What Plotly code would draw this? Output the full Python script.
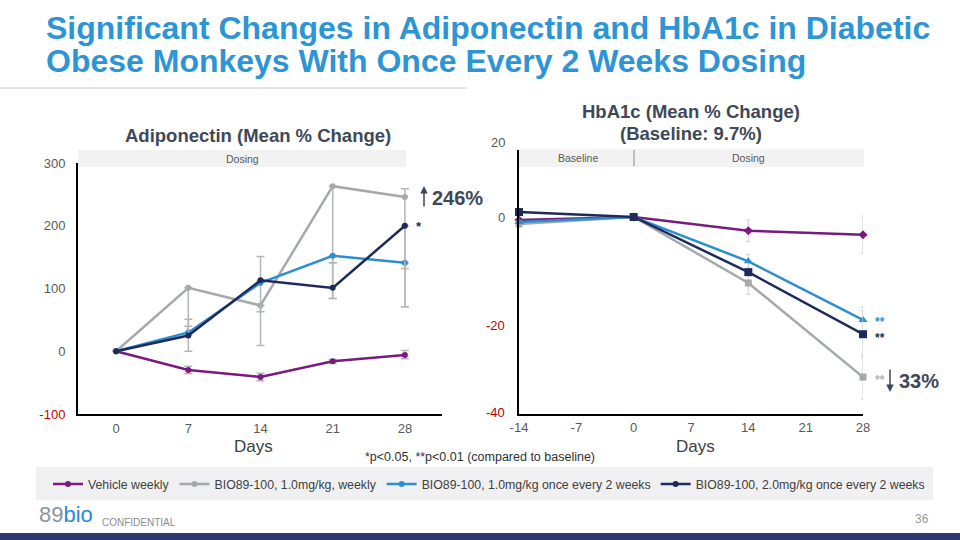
import plotly.graph_objects as go

W, H = 960, 540
FONT = "Liberation Sans, Arial, sans-serif"

# ---------------- data ----------------
series_names = ["Vehicle weekly", "BIO89-100, 1.0mg/kg, weekly",
                "BIO89-100, 1.0mg/kg once every 2 weeks",
                "BIO89-100, 2.0mg/kg once every 2 weeks"]
series_colors = ["#7b1a7e", "#a6a9ac", "#2d8fd0", "#1f2a5c"]

adipo_days = [0, 7, 14, 21, 28]
adipo_vehicle = [0, -30, -41, -16, -6]
adipo_g1w = [0, 101, 73, 263, 246]
adipo_g1q2w = [0, 30, 109, 152, 141]
adipo_g2q2w = [0, 25, 113, 101, 200]
adipo_err_plus = [[0, 6, 6, 3, 7], [0, 0, 0, 0, 13], [0, 21, 42, 0, 0], [0, 15, 0, 40, 0]]
adipo_err_minus = [[0, 6, 6, 3, 6], [0, 101, 64, 179, 175], [0, 0, 46, 11, 9], [0, 0, 0, 17, 129]]

hba_days = [-14, 0, 14, 28]
hba_vehicle = [-0.6, 0, -2.8, -3.6]
hba_g1w = [-1.4, 0, -13.4, -32.5]
hba_g1q2w = [-1.0, 0, -9.0, -20.9]
hba_g2q2w = [1.0, 0, -11.2, -23.8]
hba_err = [[0, 0, 2.2, 3.8], [0.6, 0, 2.3, 4.5], [0, 0, 1.4, 2.7], [0.6, 0, 0, 4.8]]

adipo_ticks = [-100, 0, 100, 200, 300]
hba_ticks_x = [-14, -7, 0, 7, 14, 21, 28]
hba_ylabels = ["20", "0", "-20", "-40"]


def px(x):
    return x / W


def py(y):
    return 1 - y / H


fig = go.Figure()

adipo_series = [adipo_vehicle, adipo_g1w, adipo_g1q2w, adipo_g2q2w]
for i, ys in enumerate(adipo_series):
    fig.add_trace(go.Scatter(
        x=adipo_days, y=ys, xaxis="x", yaxis="y", name=series_names[i],
        mode="lines+markers", cliponaxis=False,
        line=dict(color=series_colors[i], width=2.5),
        marker=dict(color=series_colors[i], size=6, symbol="circle"),
        error_y=dict(type="data", symmetric=False, array=adipo_err_plus[i],
                     arrayminus=adipo_err_minus[i], color="#b4b6b8",
                     thickness=1.5, width=4),
        showlegend=True))

hba_series = [hba_vehicle, hba_g1w, hba_g1q2w, hba_g2q2w]
hba_symbols = ["diamond", "square", "triangle-up", "square"]
hba_sizes = [7, 7, 8, 8]
for i, ys in enumerate(hba_series):
    fig.add_trace(go.Scatter(
        x=hba_days, y=ys, xaxis="x2", yaxis="y2", name=series_names[i],
        mode="lines+markers", cliponaxis=False,
        line=dict(color=series_colors[i], width=2.5),
        marker=dict(color=series_colors[i], size=hba_sizes[i], symbol=hba_symbols[i]),
        error_y=dict(type="data", array=hba_err[i], color="#d3d5d7",
                     thickness=1.2, width=2),
        showlegend=False))

tick_font = dict(family=FONT, size=13, color="#595959")

ytext = []
for t in adipo_ticks:
    if t < 0:
        ytext.append('<span style="color:#c00000">%d</span>' % t)
    else:
        ytext.append(str(t))

fig.update_layout(
    width=W, height=H, margin=dict(l=0, r=0, t=0, b=0, autoexpand=False),
    paper_bgcolor="white", plot_bgcolor="rgba(0,0,0,0)",
    font=dict(family=FONT),
    xaxis=dict(domain=[px(78), px(442)], range=[-3.7, 31.6], automargin=False,
               tickvals=adipo_days, ticktext=[str(d) for d in adipo_days],
               showline=True, linecolor="black", linewidth=2,
               showgrid=False, zeroline=False, ticks="", tickfont=tick_font,
               ticklabelstandoff=1),
    yaxis=dict(domain=[py(414), py(163)], range=[-100, 300], automargin=False,
               tickvals=adipo_ticks, ticktext=ytext,
               showline=True, linecolor="black", linewidth=2,
               showgrid=False, zeroline=False, ticks="", tickfont=tick_font,
               ticklabelstandoff=8),
    xaxis2=dict(domain=[px(519), px(863)], range=[-14, 28], anchor="y2", automargin=False,
                tickvals=hba_ticks_x, ticktext=[str(d) for d in hba_ticks_x],
                showline=True, linecolor="black", linewidth=2,
                showgrid=False, zeroline=False, ticks="", tickfont=tick_font,
                ticklabelstandoff=0),
    yaxis2=dict(domain=[py(414), py(150)], range=[-40, 13.6], anchor="x2", automargin=False,
                showticklabels=False,
                showline=True, linecolor="black", linewidth=2,
                showgrid=False, zeroline=False, ticks=""),
    legend=dict(orientation="h", x=px(48), y=py(484), xanchor="left",
                yanchor="middle", bgcolor="rgba(0,0,0,0)", itemwidth=30,
                font=dict(family=FONT, size=12.3, color="#404040"),
                tracegroupgap=0),
)

shapes = []
# title underline
shapes.append(dict(type="line", xref="paper", yref="paper", x0=0, x1=px(467),
                   y0=py(88), y1=py(88), line=dict(color="#c8c8c8", width=1)))
# dosing bands
shapes.append(dict(type="rect", xref="paper", yref="paper", layer="below",
                   x0=px(78), x1=px(406), y0=py(167), y1=py(150),
                   fillcolor="#f2f2f2", line=dict(width=0)))
shapes.append(dict(type="rect", xref="paper", yref="paper", layer="below",
                   x0=px(519), x1=px(864), y0=py(167), y1=py(149),
                   fillcolor="#f2f2f2", line=dict(width=0)))
shapes.append(dict(type="line", xref="paper", yref="paper",
                   x0=px(634), x1=px(634), y0=py(166), y1=py(150),
                   line=dict(color="#8c8c8c", width=1)))
# legend box
shapes.append(dict(type="rect", xref="paper", yref="paper", layer="below",
                   x0=px(36), x1=px(933), y0=py(500), y1=py(467),
                   fillcolor="#f0f0f2", line=dict(width=0)))
# bottom bar
shapes.append(dict(type="rect", xref="paper", yref="paper",
                   x0=0, x1=1, y0=0, y1=py(533),
                   fillcolor="#2c3970", line=dict(width=0)))
fig.update_layout(shapes=shapes)

ann = []


def text(x, y, s, size, color="#404a5a", bold=False, xanchor="center", family=FONT):
    if bold:
        s = "<b>%s</b>" % s
    ann.append(dict(x=px(x), y=py(y), xref="paper", yref="paper", text=s,
                    showarrow=False, xanchor=xanchor, yanchor="middle",
                    font=dict(family=family, size=size, color=color)))


TITLE_BLUE = "#2e95d5"
text(44, 28, "Significant Changes in Adiponectin and HbA1c in Diabetic", 32, TITLE_BLUE, True, "left")
text(44, 61, "Obese Monkeys With Once Every 2 Weeks Dosing", 32, TITLE_BLUE, True, "left")

text(258, 135, "Adiponectin (Mean % Change)", 18.5, "#3e4858", True)
text(691, 112, "HbA1c (Mean % Change)", 18.5, "#3e4858", True)
text(691, 134, "(Baseline: 9.7%)", 18.5, "#3e4858", True)

text(242, 159, "Dosing", 10.5, "#595959")
text(578, 158, "Baseline", 10.5, "#595959")
text(748, 158, "Dosing", 10.5, "#595959")

text(253, 447, "Days", 17, "#404040")
text(695, 446, "Days", 17, "#404040")
text(480, 457, "*p&lt;0.05, **p&lt;0.01 (compared to baseline)", 12.5, "#303030")

# right y tick labels
for lab, yy in zip(hba_ylabels, [142, 217, 325, 412]):
    c = "#c00000" if lab.startswith("-") else "#595959"
    text(507, yy, lab, 13, c, False, "right")

# annotations on charts
text(430, 198, "246%", 20, "#3e4858", True, "left")
text(419, 226, "*", 13, "#1f2a5c", True)
text(880, 322, "**", 12, "#2d8fd0", True)
text(880, 338, "**", 12, "#1f2a5c", True)
text(880, 380, "**", 12, "#b0b3b6", True)
text(897, 381, "33%", 20, "#3e4858", True, "left")

# arrows
ann.append(dict(x=px(424), y=py(186), xref="paper", yref="paper",
                axref="pixel", ayref="pixel", ax=0, ay=22, text="", showarrow=True,
                arrowhead=2, arrowsize=1, arrowwidth=1.5, arrowcolor="#3e4858"))
ann.append(dict(x=px(890), y=py(392), xref="paper", yref="paper",
                axref="pixel", ayref="pixel", ax=0, ay=-24, text="", showarrow=True,
                arrowhead=2, arrowsize=1, arrowwidth=1.5, arrowcolor="#3e4858"))

# footer
text(37, 514, '<span style="color:#8a949c">89</span><span style="color:#2b8ad0">bio</span>',
     22, "#2b8ad0", False, "left")
text(100, 522, "CONFIDENTIAL", 10, "#8c8c8c", False, "left")
text(922, 519, "36", 12, "#9a9a9a")

fig.update_layout(annotations=ann)

fig.write_html("out.html", config={"displayModeBar": False},
               post_script="document.body.style.margin='0px';document.body.style.overflow='hidden';")
